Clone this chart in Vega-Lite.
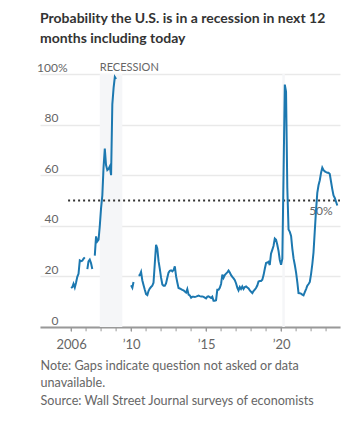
{
  "$schema": "https://vega.github.io/schema/vega-lite/v6.json",
  "width": 300,
  "height": 253,
  "autosize": "none",
  "padding": {"left": 40, "top": 74, "right": 16, "bottom": 99},
  "config": {"view": {"stroke": null}, "font": "Lato"},
  "title": {
    "text": ["Probability the U.S. is in a recession in next 12", "months including today"],
    "anchor": "start",
    "frame": "group",
    "font": "Lato",
    "fontSize": 14,
    "fontWeight": "bold",
    "color": "#333333",
    "lineHeight": 20,
    "offset": 15
  },
  "layer": [
    {
      "data": {"values": [
        {"date": "2007-12-01", "date2": "2009-06-01"},
        {"date": "2020-02-01", "date2": "2020-04-01"}
      ]},
      "mark": {"type": "rect", "fill": "#f5f6f8", "fillOpacity": 1, "strokeWidth": 0},
      "encoding": {
        "x": {"field": "date", "type": "temporal"},
        "x2": {"field": "date2"},
        "y": {"datum": 0, "type": "quantitative"},
        "y2": {"datum": 100}
      }
    },
    {
      "data": {"values": [
        {"date": "2006-01-01"}, {"date": "2007-01-01"}, {"date": "2008-01-01"}, {"date": "2009-01-01"},
        {"date": "2010-01-01"}, {"date": "2011-01-01"}, {"date": "2012-01-01"}, {"date": "2013-01-01"},
        {"date": "2014-01-01"}, {"date": "2015-01-01"}, {"date": "2016-01-01"}, {"date": "2017-01-01"},
        {"date": "2018-01-01"}, {"date": "2019-01-01"}, {"date": "2020-01-01"}, {"date": "2021-01-01"},
        {"date": "2022-01-01"}, {"date": "2023-01-01"}
      ]},
      "mark": {"type": "rule", "color": "#999999", "strokeWidth": 1},
      "encoding": {
        "x": {"field": "date", "type": "temporal"},
        "y": {"datum": -1.7, "type": "quantitative"},
        "y2": {"datum": 0}
      }
    },
    {
      "data": {"values": [{"date": "2007-12-01", "v": 100, "label": "RECESSION"}]},
      "mark": {"type": "text", "align": "left", "baseline": "alphabetic", "dy": -3, "fontSize": 11, "color": "#666666"},
      "encoding": {
        "x": {"field": "date", "type": "temporal"},
        "y": {"field": "v", "type": "quantitative"},
        "text": {"field": "label"}
      }
    },
    {
      "data": {"values": [{"date": "2005-10-20", "date2": "2023-12-06", "v": 50}]},
      "mark": {"type": "rule", "color": "#333333", "strokeWidth": 2, "strokeDash": [2, 3]},
      "encoding": {
        "x": {"field": "date", "type": "temporal"},
        "x2": {"field": "date2"},
        "y": {"field": "v", "type": "quantitative"}
      }
    },
    {
      "data": {"values": [{"date": "2021-11-15", "v": 50, "label": "50%"}]},
      "mark": {"type": "text", "align": "left", "baseline": "top", "dy": 5, "fontSize": 12, "color": "#666666"},
      "encoding": {
        "x": {"field": "date", "type": "temporal"},
        "y": {"field": "v", "type": "quantitative"},
        "text": {"field": "label"}
      }
    },
    {
      "data": {"values": [
        {"date": "2006-01-01", "v": 15.4, "seg": 1},
        {"date": "2006-02-01", "v": 15.8, "seg": 1},
        {"date": "2006-03-01", "v": 17.1, "seg": 1},
        {"date": "2006-04-01", "v": 15.6, "seg": 1},
        {"date": "2006-05-01", "v": 17.5, "seg": 1},
        {"date": "2006-06-01", "v": 19.8, "seg": 1},
        {"date": "2006-07-01", "v": 21, "seg": 1},
        {"date": "2006-08-01", "v": 26.3, "seg": 1},
        {"date": "2006-09-01", "v": 26, "seg": 1},
        {"date": "2006-10-01", "v": 26.2, "seg": 1},
        {"date": "2006-11-01", "v": 27, "seg": 1},
        {"date": "2006-12-01", "v": 27.5, "seg": 1},
        {"date": "2007-02-01", "v": 22.9, "seg": 2},
        {"date": "2007-03-01", "v": 25.9, "seg": 2},
        {"date": "2007-04-01", "v": 26.6, "seg": 2},
        {"date": "2007-05-01", "v": 25.3, "seg": 2},
        {"date": "2007-06-01", "v": 22.9, "seg": 2},
        {"date": "2007-08-01", "v": 28.2, "seg": 3},
        {"date": "2007-09-01", "v": 35.8, "seg": 3},
        {"date": "2007-10-01", "v": 33.8, "seg": 3},
        {"date": "2007-11-01", "v": 34.5, "seg": 3},
        {"date": "2007-12-01", "v": 40, "seg": 3},
        {"date": "2008-01-01", "v": 47, "seg": 3},
        {"date": "2008-02-01", "v": 52, "seg": 3},
        {"date": "2008-03-01", "v": 63, "seg": 3},
        {"date": "2008-04-01", "v": 70.5, "seg": 3},
        {"date": "2008-05-01", "v": 64, "seg": 3},
        {"date": "2008-06-01", "v": 62, "seg": 3},
        {"date": "2008-07-01", "v": 62.5, "seg": 3},
        {"date": "2008-08-01", "v": 63.5, "seg": 3},
        {"date": "2008-09-01", "v": 60, "seg": 3},
        {"date": "2008-10-01", "v": 88, "seg": 3},
        {"date": "2008-11-01", "v": 94.5, "seg": 3},
        {"date": "2008-12-01", "v": 98.8, "seg": 3},
        {"date": "2009-01-01", "v": 98, "seg": 3},
        {"date": "2010-01-01", "v": 16.5, "seg": 4},
        {"date": "2010-02-01", "v": 15.5, "seg": 4},
        {"date": "2010-03-01", "v": 17.8, "seg": 4},
        {"date": "2010-07-01", "v": 20.3, "seg": 5},
        {"date": "2010-08-01", "v": 20.5, "seg": 5},
        {"date": "2010-09-01", "v": 21.8, "seg": 5},
        {"date": "2010-10-01", "v": 18.5, "seg": 5},
        {"date": "2010-11-01", "v": 16.5, "seg": 5},
        {"date": "2010-12-01", "v": 14.7, "seg": 5},
        {"date": "2011-01-01", "v": 13, "seg": 5},
        {"date": "2011-02-01", "v": 12.6, "seg": 5},
        {"date": "2011-03-01", "v": 14.2, "seg": 5},
        {"date": "2011-04-01", "v": 15.2, "seg": 5},
        {"date": "2011-05-01", "v": 15.8, "seg": 5},
        {"date": "2011-06-01", "v": 16.3, "seg": 5},
        {"date": "2011-07-01", "v": 17.5, "seg": 5},
        {"date": "2011-08-01", "v": 25, "seg": 5},
        {"date": "2011-09-01", "v": 32.5, "seg": 5},
        {"date": "2011-10-01", "v": 31, "seg": 5},
        {"date": "2011-11-01", "v": 26, "seg": 5},
        {"date": "2011-12-01", "v": 23, "seg": 5},
        {"date": "2012-01-01", "v": 19.5, "seg": 5},
        {"date": "2012-02-01", "v": 16.8, "seg": 5},
        {"date": "2012-03-01", "v": 16.3, "seg": 5},
        {"date": "2012-04-01", "v": 16.3, "seg": 5},
        {"date": "2012-05-01", "v": 17.2, "seg": 5},
        {"date": "2012-06-01", "v": 19.5, "seg": 5},
        {"date": "2012-07-01", "v": 21.5, "seg": 5},
        {"date": "2012-08-01", "v": 22.2, "seg": 5},
        {"date": "2012-09-01", "v": 22.4, "seg": 5},
        {"date": "2012-10-01", "v": 22, "seg": 5},
        {"date": "2012-11-01", "v": 22.5, "seg": 5},
        {"date": "2012-12-01", "v": 24, "seg": 5},
        {"date": "2013-01-01", "v": 20, "seg": 5},
        {"date": "2013-02-01", "v": 17.5, "seg": 5},
        {"date": "2013-03-01", "v": 15.4, "seg": 5},
        {"date": "2013-04-01", "v": 15.2, "seg": 5},
        {"date": "2013-05-01", "v": 15, "seg": 5},
        {"date": "2013-06-01", "v": 14.7, "seg": 5},
        {"date": "2013-07-01", "v": 14.5, "seg": 5},
        {"date": "2013-08-01", "v": 14, "seg": 5},
        {"date": "2013-09-01", "v": 13.6, "seg": 5},
        {"date": "2013-10-01", "v": 15, "seg": 5},
        {"date": "2013-11-01", "v": 12.8, "seg": 5},
        {"date": "2013-12-01", "v": 12.5, "seg": 5},
        {"date": "2014-01-01", "v": 11.6, "seg": 5},
        {"date": "2014-02-01", "v": 12, "seg": 5},
        {"date": "2014-03-01", "v": 12, "seg": 5},
        {"date": "2014-04-01", "v": 11.9, "seg": 5},
        {"date": "2014-05-01", "v": 12, "seg": 5},
        {"date": "2014-06-01", "v": 12.2, "seg": 5},
        {"date": "2014-07-01", "v": 12.4, "seg": 5},
        {"date": "2014-08-01", "v": 12.2, "seg": 5},
        {"date": "2014-09-01", "v": 12.1, "seg": 5},
        {"date": "2014-10-01", "v": 12.1, "seg": 5},
        {"date": "2014-11-01", "v": 11.9, "seg": 5},
        {"date": "2014-12-01", "v": 11.6, "seg": 5},
        {"date": "2015-01-01", "v": 11.3, "seg": 5},
        {"date": "2015-02-01", "v": 12, "seg": 5},
        {"date": "2015-03-01", "v": 12.1, "seg": 5},
        {"date": "2015-04-01", "v": 11.8, "seg": 5},
        {"date": "2015-05-01", "v": 11.5, "seg": 5},
        {"date": "2015-06-01", "v": 12, "seg": 5},
        {"date": "2015-07-01", "v": 10.4, "seg": 5},
        {"date": "2015-08-01", "v": 10.4, "seg": 5},
        {"date": "2015-09-01", "v": 10.6, "seg": 5},
        {"date": "2015-10-01", "v": 14.7, "seg": 5},
        {"date": "2015-11-01", "v": 14.7, "seg": 5},
        {"date": "2015-12-01", "v": 15.5, "seg": 5},
        {"date": "2016-01-01", "v": 17, "seg": 5},
        {"date": "2016-02-01", "v": 20.7, "seg": 5},
        {"date": "2016-03-01", "v": 19.4, "seg": 5},
        {"date": "2016-04-01", "v": 20.5, "seg": 5},
        {"date": "2016-05-01", "v": 21.1, "seg": 5},
        {"date": "2016-06-01", "v": 21.6, "seg": 5},
        {"date": "2016-07-01", "v": 22.3, "seg": 5},
        {"date": "2016-08-01", "v": 21.5, "seg": 5},
        {"date": "2016-09-01", "v": 20.5, "seg": 5},
        {"date": "2016-10-01", "v": 19.8, "seg": 5},
        {"date": "2016-11-01", "v": 19.2, "seg": 5},
        {"date": "2016-12-01", "v": 18.5, "seg": 5},
        {"date": "2017-01-01", "v": 17.2, "seg": 5},
        {"date": "2017-02-01", "v": 15.5, "seg": 5},
        {"date": "2017-03-01", "v": 14.5, "seg": 5},
        {"date": "2017-04-01", "v": 15.8, "seg": 5},
        {"date": "2017-05-01", "v": 15, "seg": 5},
        {"date": "2017-06-01", "v": 16, "seg": 5},
        {"date": "2017-07-01", "v": 15, "seg": 5},
        {"date": "2017-08-01", "v": 15.8, "seg": 5},
        {"date": "2017-09-01", "v": 16, "seg": 5},
        {"date": "2017-10-01", "v": 15.6, "seg": 5},
        {"date": "2017-11-01", "v": 15.2, "seg": 5},
        {"date": "2017-12-01", "v": 14.5, "seg": 5},
        {"date": "2018-01-01", "v": 13.9, "seg": 5},
        {"date": "2018-02-01", "v": 13.4, "seg": 5},
        {"date": "2018-03-01", "v": 14.2, "seg": 5},
        {"date": "2018-04-01", "v": 14.8, "seg": 5},
        {"date": "2018-05-01", "v": 15.4, "seg": 5},
        {"date": "2018-06-01", "v": 16.4, "seg": 5},
        {"date": "2018-07-01", "v": 18, "seg": 5},
        {"date": "2018-08-01", "v": 18.2, "seg": 5},
        {"date": "2018-09-01", "v": 18.2, "seg": 5},
        {"date": "2018-10-01", "v": 18.7, "seg": 5},
        {"date": "2018-11-01", "v": 20.5, "seg": 5},
        {"date": "2018-12-01", "v": 23, "seg": 5},
        {"date": "2019-01-01", "v": 25.3, "seg": 5},
        {"date": "2019-02-01", "v": 25.5, "seg": 5},
        {"date": "2019-03-01", "v": 25.8, "seg": 5},
        {"date": "2019-04-01", "v": 24.5, "seg": 5},
        {"date": "2019-05-01", "v": 29, "seg": 5},
        {"date": "2019-06-01", "v": 30.5, "seg": 5},
        {"date": "2019-07-01", "v": 32, "seg": 5},
        {"date": "2019-08-01", "v": 35, "seg": 5},
        {"date": "2019-09-01", "v": 34.5, "seg": 5},
        {"date": "2019-10-01", "v": 32.5, "seg": 5},
        {"date": "2019-11-01", "v": 30, "seg": 5},
        {"date": "2019-12-01", "v": 26.5, "seg": 5},
        {"date": "2020-01-01", "v": 24.6, "seg": 5},
        {"date": "2020-02-01", "v": 27, "seg": 5},
        {"date": "2020-03-01", "v": 60, "seg": 5},
        {"date": "2020-04-01", "v": 95.8, "seg": 5},
        {"date": "2020-05-01", "v": 93, "seg": 5},
        {"date": "2020-06-01", "v": 55, "seg": 5},
        {"date": "2020-07-01", "v": 38.5, "seg": 5},
        {"date": "2020-08-01", "v": 37.6, "seg": 5},
        {"date": "2020-09-01", "v": 36, "seg": 5},
        {"date": "2020-10-01", "v": 31, "seg": 5},
        {"date": "2020-11-01", "v": 27, "seg": 5},
        {"date": "2020-12-01", "v": 24.5, "seg": 5},
        {"date": "2021-01-01", "v": 21.5, "seg": 5},
        {"date": "2021-02-01", "v": 17.5, "seg": 5},
        {"date": "2021-03-01", "v": 13.4, "seg": 5},
        {"date": "2021-04-01", "v": 13.3, "seg": 5},
        {"date": "2021-05-01", "v": 13.2, "seg": 5},
        {"date": "2021-06-01", "v": 12.8, "seg": 5},
        {"date": "2021-07-01", "v": 12.5, "seg": 5},
        {"date": "2021-08-01", "v": 13.8, "seg": 5},
        {"date": "2021-09-01", "v": 15, "seg": 5},
        {"date": "2021-10-01", "v": 16.3, "seg": 5},
        {"date": "2021-11-01", "v": 17, "seg": 5},
        {"date": "2021-12-01", "v": 17.8, "seg": 5},
        {"date": "2022-01-01", "v": 21, "seg": 5},
        {"date": "2022-02-01", "v": 25, "seg": 5},
        {"date": "2022-03-01", "v": 29.5, "seg": 5},
        {"date": "2022-04-01", "v": 38, "seg": 5},
        {"date": "2022-05-01", "v": 46, "seg": 5},
        {"date": "2022-06-01", "v": 53, "seg": 5},
        {"date": "2022-07-01", "v": 56, "seg": 5},
        {"date": "2022-08-01", "v": 58, "seg": 5},
        {"date": "2022-09-01", "v": 61, "seg": 5},
        {"date": "2022-10-01", "v": 63, "seg": 5},
        {"date": "2022-11-01", "v": 62, "seg": 5},
        {"date": "2022-12-01", "v": 61.5, "seg": 5},
        {"date": "2023-01-01", "v": 61.2, "seg": 5},
        {"date": "2023-02-01", "v": 61, "seg": 5},
        {"date": "2023-03-01", "v": 61, "seg": 5},
        {"date": "2023-04-01", "v": 60.5, "seg": 5},
        {"date": "2023-05-01", "v": 57.5, "seg": 5},
        {"date": "2023-06-01", "v": 54.5, "seg": 5},
        {"date": "2023-07-01", "v": 52, "seg": 5},
        {"date": "2023-08-01", "v": 51, "seg": 5},
        {"date": "2023-09-01", "v": 49.5, "seg": 5},
        {"date": "2023-10-01", "v": 48, "seg": 5}
      ]},
      "mark": {"type": "line", "color": "#1c78b0", "strokeWidth": 2},
      "encoding": {
        "x": {
          "field": "date",
          "type": "temporal",
          "scale": {"domain": ["2003-12-06", "2023-12-06"]},
          "axis": {
            "values": [{"year": 2006}, {"year": 2010}, {"year": 2015}, {"year": 2020}],
            "labelExpr": "timeFormat(datum.value, '%Y') == '2006' ? '2006' : '\u2019' + timeFormat(datum.value, '%y')",
            "grid": false,
            "domainColor": "#999999",
            "domainWidth": 2,
            "tickColor": "#999999",
            "tickSize": 4,
            "tickWidth": 1,
            "labelFontSize": 13,
            "labelColor": "#666666",
            "labelPadding": 7,
            "labelFlush": false,
            "labelOverlap": false,
            "title": ["Note: Gaps indicate question not asked or data", "unavailable.", "Source: Wall Street Journal surveys of economists"],
            "titleAnchor": "start",
            "titleAlign": "left",
            "titleBaseline": "top",
            "titleFontSize": 12.6,
            "titleFontWeight": "normal",
            "titleColor": "#666666",
            "titleLineHeight": 17.5,
            "titlePadding": 8
          }
        },
        "y": {
          "field": "v",
          "type": "quantitative",
          "scale": {"domain": [0, 100]},
          "axis": {
            "values": [0, 20, 40, 60, 80, 100],
            "labelExpr": "datum.value == 100 ? '100%' : datum.label",
            "grid": true,
            "gridColor": "#e9e9e9",
            "gridWidth": 1.5,
            "domain": false,
            "ticks": false,
            "labelAlign": "right",
            "labelBaseline": "alphabetic",
            "labelOffset": -3,
            "labelPadding": {"condition": {"test": "datum.value == 100", "value": -27}, "value": -18},
            "labelFontSize": 12,
            "labelColor": "#666666",
            "title": null
          }
        },
        "detail": {"field": "seg", "type": "nominal"}
      }
    }
  ]
}
